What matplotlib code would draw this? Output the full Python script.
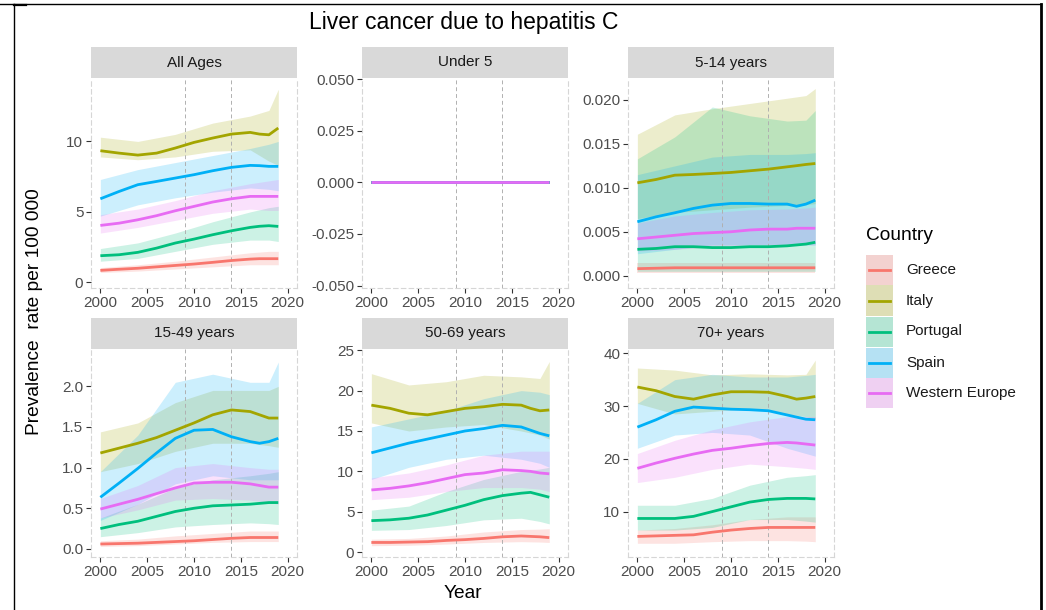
import matplotlib
matplotlib.use("Agg")
import matplotlib.pyplot as plt
from matplotlib.lines import Line2D
from matplotlib.patches import Rectangle

plt.rcParams['font.family'] = ['Liberation Sans', 'DejaVu Sans']
plt.rcParams['axes.unicode_minus'] = False

# ---------------- data ----------------
countries = ["Greece", "Italy", "Portugal", "Spain", "Western Europe"]
colors = ["#F8766D", "#A3A500", "#00BF7D", "#00B0F6", "#E76BF3"]
panel_titles = ["All Ages", "Under 5", "5-14 years", "15-49 years", "50-69 years", "70+ years"]
years = [2000, 2002, 2004, 2006, 2008, 2010, 2012, 2014, 2016, 2017, 2018, 2019]
band_years = [2000, 2004, 2008, 2012, 2016, 2018, 2019]
x_ticks = [2000, 2005, 2010, 2015, 2020]
event_years = [2009, 2014]

all_ages_mean = {
    "Greece": [0.85, 0.93, 1.0, 1.1, 1.2, 1.3, 1.42, 1.55, 1.65, 1.68, 1.68, 1.68],
    "Italy": [9.34, 9.17, 9.03, 9.17, 9.53, 9.93, 10.24, 10.52, 10.64, 10.52, 10.47, 10.95],
    "Portugal": [1.89, 1.96, 2.13, 2.43, 2.79, 3.07, 3.38, 3.66, 3.9, 3.98, 4.02, 3.97],
    "Spain": [5.93, 6.45, 6.93, 7.16, 7.4, 7.64, 7.92, 8.16, 8.3, 8.28, 8.23, 8.23],
    "Western Europe": [4.04, 4.2, 4.44, 4.73, 5.08, 5.39, 5.7, 5.93, 6.1, 6.1, 6.1, 6.1],
}
all_ages_lo = {
    "Greece": [0.7, 0.8, 0.95, 1.1, 1.25, 1.25, 1.25],
    "Italy": [8.9, 8.7, 8.9, 9.3, 9.4, 8.6, 8.3],
    "Portugal": [1.5, 1.7, 2.2, 2.7, 3.0, 3.0, 2.9],
    "Spain": [4.7, 5.5, 6.0, 6.4, 6.7, 6.6, 6.5],
    "Western Europe": [3.5, 3.9, 4.4, 4.9, 5.2, 5.1, 5.1],
}
all_ages_hi = {
    "Greece": [1.05, 1.25, 1.5, 1.8, 2.1, 2.2, 2.2],
    "Italy": [10.3, 10.0, 10.5, 11.3, 11.8, 12.2, 13.7],
    "Portugal": [2.4, 2.8, 3.5, 4.3, 5.0, 5.3, 5.4],
    "Spain": [7.3, 8.0, 8.5, 9.0, 9.5, 9.8, 10.0],
    "Western Europe": [4.8, 5.2, 5.8, 6.5, 7.0, 7.2, 7.3],
}

under5_mean = {c: [0.0] * 12 for c in countries}
under5_lo = {c: [0.0] * 7 for c in countries}
under5_hi = {c: [0.0] * 7 for c in countries}

age5_14_mean = {
    "Greece": [0.0008, 0.00085, 0.0009, 0.0009, 0.0009, 0.0009, 0.0009, 0.0009, 0.0009, 0.0009, 0.0009, 0.0009],
    "Italy": [0.01057, 0.01095, 0.01144, 0.01152, 0.01163, 0.01175, 0.01194, 0.01213, 0.01239, 0.01252, 0.01266, 0.01277],
    "Portugal": [0.0030, 0.0031, 0.0033, 0.0033, 0.0032, 0.0032, 0.0033, 0.0033, 0.0034, 0.0035, 0.0036, 0.0038],
    "Spain": [0.00614, 0.0067, 0.00716, 0.00766, 0.00803, 0.00822, 0.00822, 0.00815, 0.00815, 0.0079, 0.00815, 0.0086],
    "Western Europe": [0.0042, 0.0044, 0.0046, 0.0048, 0.0049, 0.0050, 0.0052, 0.0053, 0.0053, 0.0054, 0.0054, 0.0054],
}
age5_14_lo = {
    "Greece": [0.0003] * 7,
    "Italy": [0.0065, 0.0072, 0.0075, 0.0078, 0.008, 0.0081, 0.0082],
    "Portugal": [0.0005] * 7,
    "Spain": [0.0025, 0.003, 0.0035, 0.0035, 0.0035, 0.0035, 0.0035],
    "Western Europe": [0.0028, 0.003, 0.0033, 0.0035, 0.0035, 0.0035, 0.0035],
}
age5_14_hi = {
    "Greece": [0.0014] * 7,
    "Italy": [0.0161, 0.0183, 0.019, 0.0196, 0.0202, 0.0205, 0.0213],
    "Portugal": [0.0133, 0.0158, 0.0192, 0.0182, 0.0176, 0.0177, 0.0188],
    "Spain": [0.0115, 0.0125, 0.0135, 0.0138, 0.0138, 0.0139, 0.014],
    "Western Europe": [0.006, 0.0068, 0.0072, 0.0075, 0.0076, 0.0077, 0.0078],
}

age15_49_mean = {
    "Greece": [0.06, 0.065, 0.07, 0.08, 0.09, 0.1, 0.115, 0.13, 0.14, 0.14, 0.14, 0.14],
    "Italy": [1.18, 1.24, 1.3, 1.37, 1.46, 1.55, 1.65, 1.71, 1.69, 1.65, 1.61, 1.61],
    "Portugal": [0.25, 0.3, 0.34, 0.4, 0.46, 0.5, 0.53, 0.54, 0.55, 0.56, 0.57, 0.57],
    "Spain": [0.635, 0.81, 0.99, 1.18, 1.36, 1.46, 1.47, 1.38, 1.32, 1.3, 1.32, 1.36],
    "Western Europe": [0.49, 0.55, 0.61, 0.68, 0.75, 0.81, 0.82, 0.82, 0.8, 0.78, 0.76, 0.76],
}
age15_49_lo = {
    "Greece": [0.03, 0.04, 0.06, 0.08, 0.09, 0.09, 0.09],
    "Italy": [0.95, 1.05, 1.2, 1.3, 1.3, 1.27, 1.25],
    "Portugal": [0.15, 0.2, 0.27, 0.3, 0.32, 0.31, 0.3],
    "Spain": [0.35, 0.55, 0.8, 0.9, 0.85, 0.85, 0.85],
    "Western Europe": [0.38, 0.48, 0.6, 0.62, 0.6, 0.57, 0.55],
}
age15_49_hi = {
    "Greece": [0.1, 0.12, 0.16, 0.19, 0.22, 0.22, 0.22],
    "Italy": [1.44, 1.55, 1.8, 1.95, 1.95, 1.95, 2.0],
    "Portugal": [0.38, 0.55, 0.75, 0.85, 0.9, 0.93, 0.95],
    "Spain": [0.95, 1.4, 2.05, 2.15, 2.05, 2.05, 2.3],
    "Western Europe": [0.62, 0.78, 1.0, 1.05, 1.0, 0.98, 0.98],
}

age50_69_mean = {
    "Greece": [1.2, 1.2, 1.25, 1.3, 1.45, 1.55, 1.7, 1.9, 2.0, 1.95, 1.9, 1.8],
    "Italy": [18.2, 17.8, 17.2, 17.0, 17.4, 17.8, 18.0, 18.3, 18.2, 17.8, 17.5, 17.6],
    "Portugal": [3.9, 4.0, 4.2, 4.6, 5.2, 5.8, 6.5, 7.0, 7.3, 7.4, 7.1, 6.8],
    "Spain": [12.3, 12.9, 13.5, 14.0, 14.5, 15.0, 15.3, 15.7, 15.5, 15.1, 14.7, 14.4],
    "Western Europe": [7.7, 7.9, 8.2, 8.6, 9.1, 9.6, 9.8, 10.2, 10.1, 10.0, 9.8, 9.7],
}
age50_69_lo = {
    "Greece": [0.8, 0.85, 1.0, 1.2, 1.3, 1.25, 1.2],
    "Italy": [16.0, 15.0, 15.5, 15.8, 15.0, 14.5, 14.0],
    "Portugal": [2.7, 2.8, 3.3, 4.0, 4.2, 3.8, 3.5],
    "Spain": [9.0, 10.5, 11.5, 12.0, 11.5, 11.0, 10.5],
    "Western Europe": [6.5, 6.8, 7.5, 8.0, 8.0, 7.8, 7.5],
}
age50_69_hi = {
    "Greece": [1.6, 1.7, 2.0, 2.5, 2.8, 2.85, 2.9],
    "Italy": [22.1, 20.7, 21.1, 21.9, 21.7, 21.5, 23.6],
    "Portugal": [5.2, 5.7, 7.5, 9.0, 10.0, 10.3, 10.5],
    "Spain": [15.5, 16.5, 17.5, 19.0, 20.0, 19.8, 19.5],
    "Western Europe": [9.2, 9.8, 10.8, 12.0, 12.5, 12.5, 12.5],
}

age70_mean = {
    "Greece": [5.3, 5.4, 5.5, 5.6, 6.1, 6.5, 6.8, 7.0, 7.0, 7.0, 7.0, 7.0],
    "Italy": [33.6, 32.9, 31.8, 31.3, 32.1, 32.7, 32.7, 32.6, 31.8, 31.3, 31.5, 31.8],
    "Portugal": [8.7, 8.7, 8.7, 9.1, 10.0, 10.9, 11.8, 12.3, 12.5, 12.5, 12.5, 12.4],
    "Spain": [26.0, 27.4, 29.0, 29.8, 29.6, 29.4, 29.3, 29.1, 28.3, 27.9, 27.5, 27.4],
    "Western Europe": [18.2, 19.2, 20.1, 20.9, 21.6, 22.0, 22.5, 22.9, 23.1, 23.0, 22.8, 22.6],
}
age70_lo = {
    "Greece": [4.0, 4.0, 4.3, 4.5, 4.5, 4.4, 4.3],
    "Italy": [30.5, 28.5, 29.0, 29.5, 28.5, 28.0, 27.5],
    "Portugal": [6.5, 6.5, 7.0, 8.5, 8.5, 8.2, 8.0],
    "Spain": [22.0, 24.5, 25.0, 24.5, 22.0, 21.0, 20.5],
    "Western Europe": [15.5, 16.5, 18.0, 19.0, 18.5, 18.2, 18.0],
}
age70_hi = {
    "Greece": [6.5, 6.8, 7.5, 8.5, 9.0, 9.0, 9.0],
    "Italy": [37.2, 36.8, 35.9, 36.1, 35.9, 36.0, 38.7],
    "Portugal": [11.2, 11.2, 12.5, 15.0, 16.5, 16.8, 17.0],
    "Spain": [30.5, 35.0, 36.0, 35.5, 35.5, 35.8, 36.0],
    "Western Europe": [21.0, 23.5, 25.5, 27.0, 28.0, 28.0, 28.0],
}

y_ticks = [
    [0, 5, 10],
    [-0.05, -0.025, 0.0, 0.025, 0.05],
    [0.0, 0.005, 0.01, 0.015, 0.02],
    [0.0, 0.5, 1.0, 1.5, 2.0],
    [0, 5, 10, 15, 20, 25],
    [10, 20, 30, 40],
]
y_tick_labels = [
    ["0", "5", "10"],
    ["-0.050", "-0.025", "0.000", "0.025", "0.050"],
    ["0.000", "0.005", "0.010", "0.015", "0.020"],
    ["0.0", "0.5", "1.0", "1.5", "2.0"],
    ["0", "5", "10", "15", "20", "25"],
    ["10", "20", "30", "40"],
]
y_limits = [(-0.4, 14.5), (-0.0512, 0.0505), (-0.0014, 0.0225),
            (-0.1, 2.46), (-0.6, 25.15), (1.4, 40.8)]

panel_data = [
    (all_ages_mean, all_ages_lo, all_ages_hi),
    (under5_mean, under5_lo, under5_hi),
    (age5_14_mean, age5_14_lo, age5_14_hi),
    (age15_49_mean, age15_49_lo, age15_49_hi),
    (age50_69_mean, age50_69_lo, age50_69_hi),
    (age70_mean, age70_lo, age70_hi),
]

# ---------------- layout ----------------
W, H = 1046, 610
fig = plt.figure(figsize=(W / 100, H / 100), dpi=100)
fig.patch.set_facecolor("white")


def rect(x0, y0, x1, y1):
    return [x0 / W, 1 - y1 / H, (x1 - x0) / W, (y1 - y0) / H]


lefts = [91, 362, 628]
pw = 206
rows = [(47, 78, 288), (318, 349, 557)]  # strip top, plot top, plot bottom

for i in range(6):
    r, c = divmod(i, 3)
    x0 = lefts[c]
    st, pt, pb = rows[r]
    ax = fig.add_axes(rect(x0, pt, x0 + pw, pb))
    sax = fig.add_axes(rect(x0, st, x0 + pw, pt))
    sax.set_facecolor("#D9D9D9")
    sax.set_xticks([]); sax.set_yticks([])
    for s in sax.spines.values():
        s.set_visible(False)
    sax.text(0.5, 0.5, panel_titles[i], ha="center", va="center",
             fontsize=11, color="#1A1A1A", transform=sax.transAxes)

    mean, lo, hi = panel_data[i]
    for cn, col in zip(countries, colors):
        ax.fill_between(band_years, lo[cn], hi[cn], color=col, alpha=0.2,
                        linewidth=0, zorder=1)
    for cn, col in zip(countries, colors):
        ax.plot(years, mean[cn], color=col, lw=2.0, zorder=3,
                solid_capstyle="butt")
    for ev in event_years:
        ax.axvline(ev, color="#B0B0B0", lw=0.7, ls=(0, (4, 3)), zorder=2)

    ax.set_xlim(1999, 2021)
    ax.set_ylim(*y_limits[i])
    ax.set_xticks(x_ticks)
    ax.set_xticklabels([str(t) for t in x_ticks])
    ax.set_yticks(y_ticks[i])
    ax.set_yticklabels(y_tick_labels[i])
    ax.tick_params(axis="both", labelsize=11, labelcolor="#4D4D4D",
                   color="#333333", length=3.5, width=0.8, pad=2)
    ax.set_facecolor("white")
    for name, s in ax.spines.items():
        if name == "top":
            s.set_visible(False)
        else:
            s.set_linestyle((0, (4, 3)))
            s.set_color("#D6D6D6")
            s.set_linewidth(0.8)

# ---------------- texts ----------------
fig.text(463.5 / W, 1 - 23 / H, "Liver cancer due to hepatitis C",
         ha="center", va="center", fontsize=16.5, color="black")
fig.text(35 / W, 1 - 312 / H, "Prevalence  rate per 100 000", rotation=90,
         ha="center", va="center", fontsize=13.75, color="black")
fig.text(463 / W, 1 - 593 / H, "Year", ha="center", va="center",
         fontsize=13.75, color="black")

# ---------------- legend ----------------
fig.text(866 / W, 1 - 235 / H, "Country", ha="left", va="center",
         fontsize=13.75, color="black")
label_y = [270, 300.5, 331.5, 362.5, 393]
for cn, col, yy in zip(countries, colors, label_y):
    fig.add_artist(Rectangle((866 / W, 1 - (yy + 15) / H), 27 / W, 30 / H,
                             transform=fig.transFigure, facecolor="#F2F2F2",
                             edgecolor="none"))
    fig.add_artist(Rectangle((866 / W, 1 - (yy + 15) / H), 27 / W, 30 / H,
                             transform=fig.transFigure, facecolor=col,
                             alpha=0.25, edgecolor="none"))
    fig.add_artist(Line2D([869 / W, 890 / W], [1 - yy / H, 1 - yy / H],
                          transform=fig.transFigure, color=col, lw=2.0))
    fig.text(906 / W, 1 - yy / H, cn, ha="left", va="center", fontsize=11,
             color="#1A1A1A")

# ---------------- page border ----------------
fig.add_artist(Line2D([0, 1041 / W], [1 - 4 / H, 1 - 4 / H],
                      transform=fig.transFigure, color="black", lw=1.0))
fig.add_artist(Line2D([13.5 / W, 13.5 / W], [1 - 4 / H, 0],
                      transform=fig.transFigure, color="black", lw=1.0))
fig.add_artist(Line2D([13.5 / W, 26 / W], [1 - 4.8 / H, 1 - 4.8 / H],
                      transform=fig.transFigure, color="black", lw=1.6))
fig.add_artist(Line2D([1041 / W, 1041 / W], [1 - 4 / H, 0],
                      transform=fig.transFigure, color="black", lw=2.0))

fig.savefig("out.png", dpi=100, facecolor="white")
